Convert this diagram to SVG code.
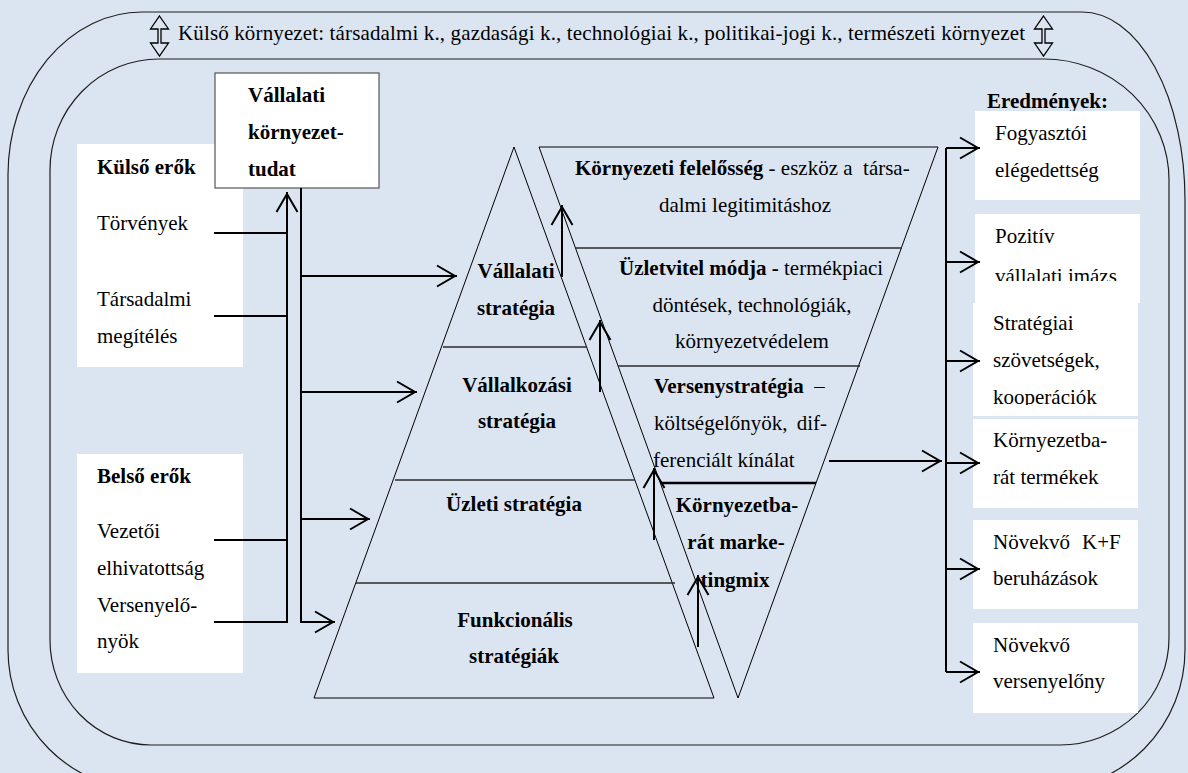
<svg xmlns="http://www.w3.org/2000/svg" width="1188" height="773" viewBox="0 0 1188 773" font-family="'Liberation Serif', 'DejaVu Serif', 'Times New Roman', Times, serif">
<defs>
<style>
text{font-family:'Liberation Serif','DejaVu Serif','Times New Roman',Times,serif;font-size:21px;fill:#000}
.b{font-weight:bold}
.m{text-anchor:middle}
.e{text-anchor:end}
.frame{fill:none;stroke:#1e1e1e;stroke-width:1.2}
.box{fill:#fff}
.tri{fill:none;stroke:#000;stroke-width:1}
.sep{stroke:#2a2a2a;stroke-width:1.7}
.con{fill:none;stroke:#000;stroke-width:2}
.arr{fill:none;stroke:#000;stroke-width:2;marker-end:url(#ah)}
</style>
<marker id="ah" markerUnits="userSpaceOnUse" viewBox="0 0 22 24" refX="20" refY="12" markerWidth="22" markerHeight="24" orient="auto" overflow="visible">
<path d="M0,1.5 L18,12 L0,22.5" fill="none" stroke="#000" stroke-width="2"/>
</marker>
<path id="ud" d="M0,16 L9,29 L1.5,29 L1.5,43 L9,43 L0,56 L-9,43 L-1.5,43 L-1.5,29 L-9,29 Z" fill="none" stroke="#000" stroke-width="1.3"/>
<clipPath id="c1"><rect x="975" y="250" width="165" height="31"/></clipPath>
<clipPath id="c2"><rect x="973" y="380" width="165" height="25"/></clipPath>
</defs>
<rect x="0" y="0" width="1188" height="773" fill="#dbe5f1"/>
<g id="environment">
<path class="frame" d="M142,12 H1082 A103,188 0 0 1 1185,200 V650 A140,140 0 0 1 1045,790 H148 A140,140 0 0 1 8,650 V175 A134,163 0 0 1 142,12 Z"/>
<path class="frame" d="M159,59 H1044 A125,121 0 0 1 1169,180 V638 A109,107 0 0 1 1060,745 H151 A101,105 0 0 1 50,640 V170 A109,111 0 0 1 159,59 Z"/>
<use href="#ud" x="159.5" y="0"/>
<use href="#ud" x="1043.5" y="0"/>
<text x="178" y="40" textLength="847" lengthAdjust="spacing">Külső környezet: társadalmi k., gazdasági k., technológiai k., politikai-jogi k., természeti környezet</text>
</g>
<g id="kulso-erok">
<rect class="box" x="77" y="144" width="166" height="223"/>
<text class="b" x="97" y="174">Külső erők</text>
<text x="97" y="230">Törvények</text>
<text x="97" y="306">Társadalmi</text>
<text x="97" y="343">megítélés</text>
</g>
<g id="belso-erok">
<rect class="box" x="77" y="454" width="166" height="219"/>
<text class="b" x="97" y="483">Belső erők</text>
<text x="97" y="538">Vezetői</text>
<text x="97" y="575">elhivatottság</text>
<text x="97" y="612">Versenyelő-</text>
<text x="97" y="648">nyök</text>
</g>
<g id="vallalati-tudat">
<rect x="215" y="73" width="164" height="115" fill="#fff" stroke="#555" stroke-width="1.2"/>
<text class="b" x="248" y="102">Vállalati</text>
<text class="b" x="248" y="139">környezet-</text>
<text class="b" x="248" y="176">tudat</text>
</g>
<g id="strategia-piramis">
<polygon class="tri" points="514,147 314,698 714,698"/>
<line class="sep" x1="443" y1="347" x2="587" y2="347"/>
<line class="sep" x1="395" y1="480" x2="635" y2="480"/>
<line class="sep" x1="356" y1="583" x2="675" y2="583"/>
<text class="b m" x="516" y="278">Vállalati</text>
<text class="b m" x="516" y="315">stratégia</text>
<text class="b m" x="517" y="392">Vállalkozási</text>
<text class="b m" x="517" y="428">stratégia</text>
<text class="b m" x="514" y="511">Üzleti stratégia</text>
<text class="b m" x="515" y="627">Funkcionális</text>
<text class="b m" x="514" y="663">stratégiák</text>
</g>
<g id="forditott-piramis">
<polygon class="tri" points="539,147 938,147 738,698"/>
<line class="sep" x1="576" y1="248" x2="902" y2="248"/>
<line class="sep" x1="618" y1="366" x2="860" y2="366"/>
<line x1="660" y1="483" x2="816" y2="483" stroke="#000" stroke-width="2.5"/>
<text x="575" y="175" style="white-space:pre"><tspan class="b">Környezeti felelősség</tspan> - eszköz a  társa-</text>
<text class="m" x="745" y="212">dalmi legitimitáshoz</text>
<text x="619" y="275"><tspan class="b">Üzletvitel módja -</tspan> termékpiaci</text>
<text class="m" x="752" y="312">döntések, technológiák,</text>
<text class="m" x="752" y="348">környezetvédelem</text>
<text x="654" y="393" style="white-space:pre"><tspan class="b">Versenystratégia</tspan>  –</text>
<text x="654" y="430">költségelőnyök,</text>
<text class="e" x="827" y="430">dif-</text>
<text x="653" y="467">ferenciált kínálat</text>
<text class="b m" x="737" y="512">Környezetba-</text>
<text class="b m" x="736" y="549">rát marke-</text>
<text class="b m" x="735" y="587">tingmix</text>
</g>
<g id="eredmenyek">
<text class="b" x="987" y="108">Eredmények:</text>
<g id="fogyasztoi">
<rect class="box" x="975" y="111" width="165" height="89"/>
<text x="995" y="140">Fogyasztói</text>
<text x="995" y="177">elégedettség</text>
</g>
<g id="pozitiv">
<rect class="box" x="975" y="214" width="165" height="89"/>
<text x="995" y="243">Pozitív</text>
<text x="995" y="283" clip-path="url(#c1)">vállalati imázs</text>
</g>
<g id="strategiai">
<rect class="box" x="973" y="303" width="165" height="113"/>
<text x="993" y="330">Stratégiai</text>
<text x="993" y="367">szövetségek,</text>
<text x="993" y="404" clip-path="url(#c2)">kooperációk</text>
</g>
<g id="kornyezetbarat">
<rect class="box" x="973" y="419" width="165" height="89"/>
<text x="993" y="447">Környezetba-</text>
<text x="993" y="484">rát termékek</text>
</g>
<g id="kf">
<rect class="box" x="973" y="520" width="165" height="89"/>
<text x="993" y="549">Növekvő</text>
<text x="1082" y="549">K+F</text>
<text x="993" y="585">beruházások</text>
</g>
<g id="versenyeloeny">
<rect class="box" x="973" y="623" width="165" height="90"/>
<text x="993" y="652">Növekvő</text>
<text x="993" y="688">versenyelőny</text>
</g>
</g>
<g id="connectors">
<path class="con" d="M214,233H287 M214,316H287 M214,540H287 M214,622H287 M301,188V623"/>
<path class="arr" d="M287,623V192"/>
<path class="arr" d="M301,276H457"/>
<path class="arr" d="M301,392H417"/>
<path class="arr" d="M301,519H370"/>
<path class="arr" d="M301,622H335"/>
<path class="arr" d="M562,277V205"/>
<path class="arr" d="M600,392V320"/>
<path class="arr" d="M654,540V468"/>
<path class="arr" d="M698,647V575"/>
<path class="arr" d="M829,461H942"/>
<path class="con" d="M946,148V672"/>
<path class="arr" d="M946,148H980"/>
<path class="arr" d="M946,262H980"/>
<path class="arr" d="M946,361H980"/>
<path class="arr" d="M946,463H980"/>
<path class="arr" d="M946,569H980"/>
<path class="arr" d="M946,672H980"/>
</g>
</svg>
